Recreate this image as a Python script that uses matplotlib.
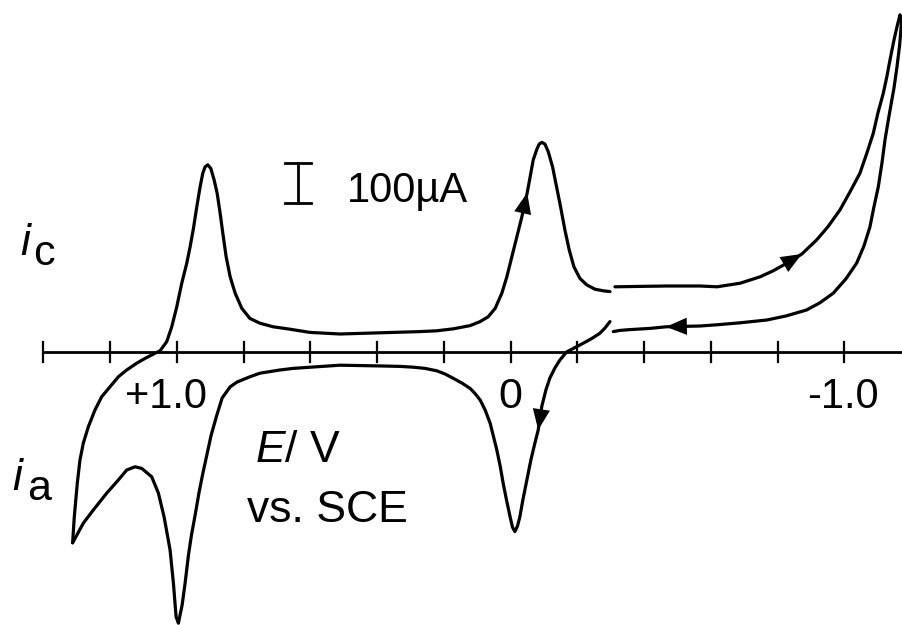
import matplotlib
matplotlib.use("Agg")
import matplotlib.pyplot as plt
from matplotlib import font_manager

# ---------------- data (E in V vs. SCE, current in microampere, cathodic positive) -------------
# forward (cathodic) sweep: from the positive turning point towards negative potentials
scan1_E = [1.312, 1.307, 1.298, 1.290, 1.280, 1.265, 1.245, 1.225, 1.200, 1.175, 1.150, 1.120,
           1.095, 1.065, 1.050, 1.030, 1.015, 1.000, 0.985, 0.970, 0.960, 0.950, 0.940, 0.930,
           0.922, 0.915, 0.907, 0.898, 0.888, 0.879, 0.870, 0.862, 0.852, 0.840, 0.825, 0.805,
           0.781, 0.751, 0.711, 0.661, 0.601, 0.511, 0.391, 0.271, 0.221, 0.171, 0.121, 0.091,
           0.067, 0.046, 0.026, 0.011, -0.004, -0.019, -0.034, -0.043, -0.050, -0.058, -0.068,
           -0.079, -0.086, -0.094, -0.103, -0.113, -0.126, -0.138, -0.150, -0.163, -0.176,
           -0.190, -0.208, -0.228, -0.253, -0.278, -0.298]
scan1_I = [-477, -412, -328, -270, -228, -187, -145, -112, -87, -62, -45, -28, -16, -3, 3, 26,
           63, 113, 172, 222, 263, 309, 363, 413, 447, 463, 468, 459, 430, 397, 347, 297, 238,
           188, 147, 109, 84, 72, 63, 57, 49, 45, 48, 51, 53, 58, 66, 76, 88, 109, 147, 188,
           238, 288, 338, 372, 398, 434, 480, 507, 520, 524, 520, 501, 463, 413, 363, 305, 255,
           213, 184, 168, 157, 153, 151]

# negative switching region (out to the cathodic limit and back)
scan2_E = [-0.313, -0.388, -0.469, -0.568, -0.619, -0.688, -0.748, -0.787, -0.828, -0.873,
           -0.917, -0.951, -0.987, -1.017, -1.047, -1.068, -1.087, -1.101, -1.117, -1.128,
           -1.137, -1.149, -1.158, -1.167, -1.172, -1.166, -1.158, -1.149, -1.140, -1.131,
           -1.122, -1.113, -1.102, -1.089, -1.077, -1.059, -1.037, -1.005, -0.967, -0.927,
           -0.887, -0.825, -0.768, -0.688, -0.618, -0.568, -0.514, -0.466, -0.418, -0.358,
           -0.328, -0.308]
scan2_I = [163, 164, 165, 165, 163, 172, 188, 203, 222, 245, 280, 313, 355, 400, 447, 498, 547,
           598, 647, 690, 730, 780, 813, 843, 830, 768, 713, 660, 618, 575, 530, 473, 413, 363,
           313, 265, 222, 183, 147, 123, 105, 90, 80, 73, 68, 65, 64, 63, 59, 56, 54, 51]

# reverse (anodic) sweep back to the positive turning point
scan3_E = [-0.298, -0.283, -0.268, -0.244, -0.218, -0.193, -0.168, -0.148, -0.133, -0.118,
           -0.106, -0.094, -0.087, -0.083, -0.073, -0.061, -0.049, -0.037, -0.028, -0.021,
           -0.013, -0.006, 0.001, 0.012, 0.022, 0.031, 0.041, 0.052, 0.061, 0.076, 0.091, 0.106,
           0.121, 0.145, 0.171, 0.196, 0.221, 0.256, 0.291, 0.331, 0.382, 0.511, 0.652, 0.691,
           0.751, 0.781, 0.819, 0.840, 0.864, 0.880, 0.897, 0.910, 0.921, 0.933, 0.945, 0.956,
           0.965, 0.975, 0.984, 0.992, 0.995, 1.002, 1.010, 1.020, 1.038, 1.055, 1.075, 1.105,
           1.125, 1.150, 1.175, 1.210, 1.250, 1.280, 1.312]
scan3_I = [76, 60, 47, 34, 22, 11, 0, -20, -40, -65, -95, -135, -170, -195, -228, -270, -320,
           -370, -412, -435, -449, -438, -413, -370, -328, -285, -245, -208, -178, -145, -120,
           -104, -91, -78, -66, -55, -47, -41, -38, -36, -35, -33, -41, -45, -53, -62, -75, -87,
           -115, -158, -208, -258, -300, -350, -408, -458, -508, -578, -633, -665, -678, -662,
           -578, -495, -412, -353, -312, -291, -287, -295, -320, -353, -395, -428, -477]

# direction arrows: (series, tip index, tail index)
arrows = [("scan1", 56, 54), ("scan2", 9, 7), ("scan2", 47, 45), ("scan3", 13, 11)]

# potential axis ticks and labels
tick_values = [1.4, 1.2, 1.0, 0.8, 0.6, 0.4, 0.2, 0.0, -0.2, -0.4, -0.6, -0.8, -1.0]
tick_labels = {1.0: "+1.0", 0.0: "0", -1.0: "-1.0"}
scale_bar_uA = 100
scale_bar_label = "100µA"

# ---------------- styling / layout ----------------
names = {f.name for f in font_manager.fontManager.ttflist}
narrow = "Liberation Sans Narrow" if "Liberation Sans Narrow" in names else "Liberation Sans"
plt.rcParams["mathtext.fontset"] = "custom"
plt.rcParams["mathtext.it"] = "Liberation Sans:italic"
plt.rcParams["mathtext.rm"] = "Liberation Sans"

fig = plt.figure(figsize=(9.03, 6.25), dpi=100)
ax = fig.add_axes([0, 0, 1, 1])
ax.set_xlim(1.5296, -1.176)
ax.set_ylim(-682.5, 880)
ax.axis("off")

LW = 2.3
series = {"scan1": (scan1_E, scan1_I), "scan2": (scan2_E, scan2_I), "scan3": (scan3_E, scan3_I)}
for key, (E, I) in series.items():
    ax.plot(E, I, color="black", lw=LW, solid_capstyle="round", solid_joinstyle="round")

for key, tip, tail in arrows:
    E, I = series[key]
    ax.annotate("", xy=(E[tip], I[tip]), xytext=(E[tail], I[tail]), annotation_clip=False,
                arrowprops=dict(arrowstyle="-|>,head_length=1.5,head_width=0.62",
                                mutation_scale=10, color="black", lw=0,
                                shrinkA=0, shrinkB=0))

# potential axis
ax.plot([tick_values[0], -1.176], [0, 0], color="black", lw=2.0, solid_capstyle="butt")
for t in tick_values:
    ax.plot([t, t], [-25, 25], color="black", lw=1.6)

label_right_offset = {1.0: 0.090, -1.0: 0.102}
for t, lab in tick_labels.items():
    if lab == "0":
        ax.text(t, -140, lab, ha="center", va="baseline", fontsize=31, family=narrow)
    else:
        ax.text(t - label_right_offset[t], -140, lab, ha="right", va="baseline",
                fontsize=30, family=narrow)

# scale bar
bx, b0 = 0.637, 372
ax.plot([bx, bx], [b0, b0 + scale_bar_uA], color="black", lw=2.0)
ax.plot([bx - 0.039, bx + 0.039], [b0, b0], color="black", lw=2.0)
ax.plot([bx - 0.039, bx + 0.039], [b0 + scale_bar_uA, b0 + scale_bar_uA], color="black", lw=2.0)
ax.text(0.490, 375, scale_bar_label, ha="left", va="baseline", fontsize=30, family=narrow)

# current labels
ax.text(1.470, 242, "i", style="italic", ha="left", va="baseline", fontsize=32,
        family="Liberation Sans")
ax.text(1.431, 217, "c", ha="left", va="baseline", fontsize=31, family="Liberation Sans")
ax.text(1.494, -345, "i", style="italic", ha="left", va="baseline", fontsize=32,
        family="Liberation Sans")
ax.text(1.449, -370, "a", ha="left", va="baseline", fontsize=31, family="Liberation Sans")

# potential axis title
ax.text(0.7655, -275, r"$\mathit{E}$/ V", ha="left", va="baseline", fontsize=32,
        family="Liberation Sans")
ax.text(0.7895, -425, "vs. SCE", ha="left", va="baseline", fontsize=32, family="Liberation Sans")

fig.savefig("out.png", dpi=100)
